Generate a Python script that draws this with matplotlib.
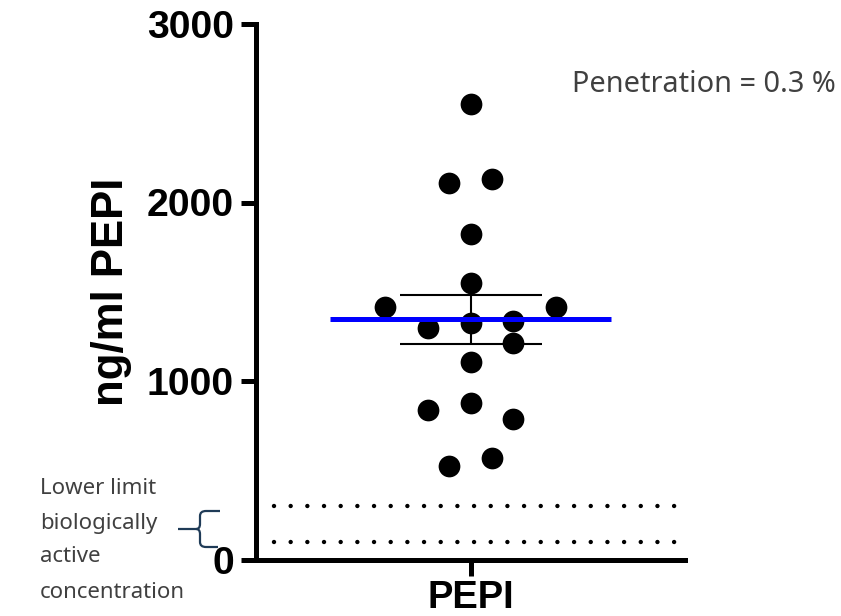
import matplotlib
matplotlib.use('Agg')
import matplotlib.pyplot as plt
from matplotlib.path import Path
from matplotlib.patches import PathPatch
import numpy as np

# ---- data ----
category = "PEPI"
values = [2552, 2108, 2132, 1824, 1551, 1416, 1416, 1295, 1323, 1338,
          1211, 1108, 838, 875, 785, 525, 570]
# beeswarm column of each point (layout)
swarm_slot = [0, -1, 1, 0, 0, -4, 4, -2, 0, 2, 2, 0, -2, 0, 2, -1, 1]
thresholds = [300, 100]
yticks = [0, 1000, 2000, 3000]
ylabel = "ng/ml PEPI"
note = "Penetration = 0.3 %"
limit_lines = ["Lower limit", "biologically", "active", "concentration"]

# ---- figure ----
W, H = 841, 616
fig = plt.figure(figsize=(W / 100, H / 100), dpi=100)
bold_font = ['Liberation Sans', 'DejaVu Sans']
text_font = ['Noto Sans', 'DejaVu Sans']

ax = fig.add_axes([256 / W, 1 - 559.5 / H, 429 / W, 535.5 / H])
slot_px = 21.4
half = 214.5 / slot_px
ax.set_xlim(-half, half)
ax.set_ylim(0, 3000)

vals = np.array(values, dtype=float)
mean = vals.mean()
sem = vals.std(ddof=1) / np.sqrt(len(vals))

# threshold dotted lines
for t in thresholds:
    ax.plot([-9.2, 9.6], [t, t], color='black', lw=3.2,
            linestyle=(0, (0.001, 3.75)), dash_capstyle='round', zorder=2)

# points
ax.scatter(np.array(swarm_slot, dtype=float), vals, s=245, color='black',
           linewidths=0, zorder=3)

# error bar (SEM)
ax.errorbar([0], [mean], yerr=[sem], fmt='none', ecolor='black', elinewidth=1.5,
            capsize=51, capthick=1.5, zorder=4)

# mean line
ax.plot([-6.55, 6.55], [mean, mean], color='#0000FF', lw=3.6,
        solid_capstyle='butt', zorder=5)

# axes styling
for s in ['top', 'right']:
    ax.spines[s].set_visible(False)
for s in ['left', 'bottom']:
    ax.spines[s].set_linewidth(3.6)
ax.set_yticks(yticks)
ax.set_yticklabels([str(v) for v in yticks], fontsize=28.3, fontweight='bold',
                   family=bold_font)
ax.set_xticks([0])
ax.set_xticklabels([category], fontsize=27.5, fontweight='bold', family=bold_font)
ax.tick_params(axis='y', length=10.8, width=3.6, pad=5)
ax.tick_params(axis='x', length=11.5, width=3.6, pad=3)

fig.text(112 / W, 1 - 292 / H, ylabel, rotation=90, ha='center', va='center',
         fontsize=31.5, fontweight='bold', family=bold_font)

fig.text(572 / W, 1 - 85 / H, note, ha='left', va='center', fontsize=20.8,
         color='#404040', family=text_font)

for i, line in enumerate(limit_lines):
    y = [489, 524, 557, 592][i]
    fig.text(40 / W, 1 - y / H, line, ha='left', va='center', fontsize=16,
             color='#404040', family=text_font)

# curly brace (decoration, figure pixel coords)
def P(x, y):
    return (x / W, 1 - y / H)

verts = [P(178, 529), P(196, 529),
         P(200, 529), P(200, 524),
         P(200, 516), P(200, 511), P(206, 511), P(220, 511),
         P(196, 529), P(200, 529), P(200, 534),
         P(200, 542), P(200, 547), P(206, 547), P(218, 547)]
codes = [Path.MOVETO, Path.LINETO,
         Path.CURVE3, Path.CURVE3,
         Path.LINETO, Path.CURVE3, Path.CURVE3, Path.LINETO,
         Path.MOVETO, Path.CURVE3, Path.CURVE3,
         Path.LINETO, Path.CURVE3, Path.CURVE3, Path.LINETO]
brace = PathPatch(Path(verts, codes), transform=fig.transFigure, fill=False,
                  edgecolor='#1f3b57', lw=1.6)
fig.patches.append(brace)

fig.savefig('out.png', dpi=100)
